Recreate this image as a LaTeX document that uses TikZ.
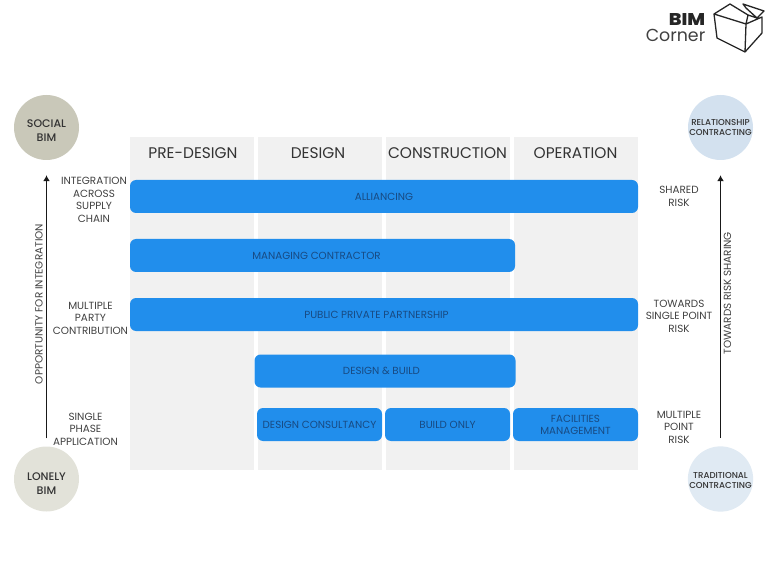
\documentclass[tikz,border=0pt]{standalone}
\usepackage{fontspec}
\setmainfont{Poppins}
\newfontfamily\mediumfont{Poppins Medium}
\newfontfamily\logofont[FakeStretch=1.12]{Poppins ExtraBold}
\usepackage{tikz}
\usetikzlibrary{arrows.meta}
\definecolor{barblue}{RGB}{33,142,236}
\definecolor{bartext}{RGB}{24,74,130}
\definecolor{colgrey}{RGB}{241,241,241}
\definecolor{socialc}{RGB}{201,200,185}
\definecolor{lonelyc}{RGB}{226,226,217}
\definecolor{relc}{RGB}{211,225,239}
\definecolor{tradc}{RGB}{224,234,243}
\definecolor{labeltext}{RGB}{64,64,64}
\tikzset{
    column/.style={fill=colgrey, minimum width=124pt, minimum height=333pt, inner sep=0pt},
    header/.style={font=\fontsize{15.4}{15}\selectfont, text=black!80},
    bar/.style={fill=barblue, rounded corners=6pt, minimum height=33pt, inner sep=0pt, align=center,
        text=bartext, font=\fontsize{10.3}{12.5}\selectfont},
    sidelabel/.style={align=center, text=labeltext, font=\fontsize{10.4}{12.5}\selectfont},
    badge/.style={circle, minimum size=65pt, inner sep=0pt, align=center, text=black!80},
    axisline/.style={-{Latex[length=6pt,width=7pt]}, line width=1.6pt, black!90},
}
\begin{document}
\begin{tikzpicture}[x=1pt, y=-1pt]
    \useasboundingbox (0,0) rectangle (768,569);

    % Columns with their headers
    \foreach \name/\x/\hx/\title in {predesign/192/193/PRE-DESIGN, design/320/318/DESIGN, construction/448/447.5/CONSTRUCTION, operation/576/575.5/OPERATION} {
        \node[column] (\name) at (\x, 303.5) {};
        \node[header] (\name head) at (\hx, 153.5) {\title};
    }

    % Bars across the columns
    \node[bar, minimum width=508pt] (alliancing) at (384, 196.5) {ALLIANCING};
    \node[bar, minimum width=385pt] (managing) at (322.5, 255.5) {\kern-12pt MANAGING CONTRACTOR};
    \node[bar, minimum width=508pt] (ppp) at (384, 314.5) {\kern-15pt PUBLIC PRIVATE PARTNERSHIP};
    \node[bar, minimum width=261pt] (designbuild) at (385, 371) {\kern-7pt DESIGN \& BUILD};
    \node[bar, minimum width=125pt] (consultancy) at (319.5, 424.5) {DESIGN CONSULTANCY};
    \node[bar, minimum width=125pt] (buildonly) at (447.5, 424.5) {BUILD ONLY};
    \node[bar, minimum width=125pt] (facilities) at (575.5, 424.5) {\rule{0pt}{8.5pt}FACILITIES\\MANAGEMENT};

    % Circles in the corners
    \node[badge, fill=socialc, font=\mediumfont\fontsize{11}{14}\selectfont] (social) at (46.5, 127.5) {\rule{0pt}{14pt}SOCIAL\\BIM};
    \node[badge, fill=lonelyc, font=\mediumfont\fontsize{11}{14}\selectfont] (lonely) at (46.5, 479) {\rule{0pt}{16pt}LONELY\\BIM};
    \node[badge, fill=relc, font=\mediumfont\fontsize{8.6}{10.5}\selectfont] (relationship) at (720.5, 127.5) {RELATIONSHIP\\CONTRACTING};
    \node[badge, fill=tradc, font=\mediumfont\fontsize{8.6}{10.5}\selectfont] (traditional) at (720.5, 479) {\rule{0pt}{9pt}TRADITIONAL\\CONTRACTING};

    % Arrows between the circles
    \draw[axisline, shorten <=8pt, shorten >=15pt] (lonely.north) -- (social.south);
    \draw[axisline, shorten <=8pt, shorten >=15pt] (traditional.north) -- (relationship.south);
    \node[sidelabel, rotate=90] (opportunity) at (39, 304) {OPPORTUNITY FOR INTEGRATION};
    \node[sidelabel, rotate=90] (risksharing) at (727.5, 293) {TOWARDS RISK SHARING};

    % Labels left of the columns
    \node[sidelabel] (integration) at (94, 200) {INTEGRATION\\ACROSS\\SUPPLY\\CHAIN};
    \node[sidelabel] (multiparty) at (90.5, 318) {MULTIPLE\\PARTY\\CONTRIBUTION};
    \node[sidelabel] (singlephase) at (85.5, 429) {SINGLE\\PHASE\\APPLICATION};

    % Labels right of the columns
    \node[sidelabel] (shared) at (679, 196.5) {SHARED\\RISK};
    \node[sidelabel] (towards) at (679, 316) {TOWARDS\\SINGLE POINT\\RISK};
    \node[sidelabel] (multipoint) at (679, 427) {MULTIPLE\\POINT\\RISK};

    % Logo
    \node[inner sep=0pt, font=\logofont\fontsize{17}{16}\selectfont, text=black!85] (bim) at (687, 19.5) {BIM};
    \node[inner sep=0pt, font=\fontsize{17.4}{17}\selectfont, text=black!75] (corner) at (675.5, 35.5) {Corner};
    \draw[line width=1.3pt, black!85, line join=round]
        (714,14) -- (730,4) -- (748,15) -- (746,24) -- (762,17) -- (762,33) -- (745,52) -- (717,38) -- cycle
        (714,14) -- (746,24) -- (745,52)
        (743,4) -- (764,11) -- (757,18) -- (746,8) -- cycle
        (748,15) -- (757,18);
\end{tikzpicture}
\end{document}
